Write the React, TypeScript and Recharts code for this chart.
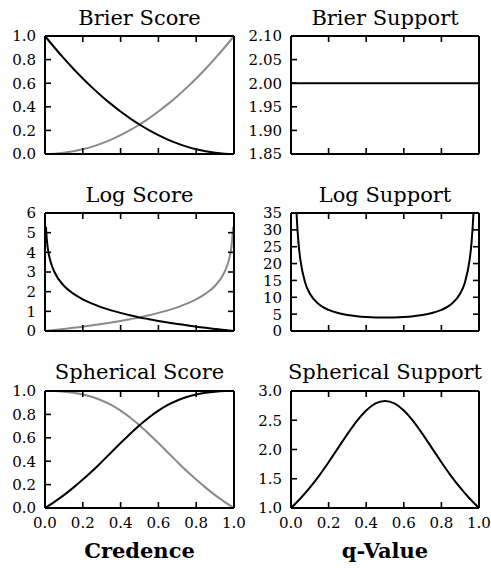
import React from 'react';
import { LineChart, Line, XAxis, YAxis } from 'recharts';

// ---------- data ----------
const xGrid = [0, 0.05, 0.1, 0.15, 0.2, 0.25, 0.3, 0.35, 0.4, 0.45, 0.5, 0.55, 0.6, 0.65, 0.7, 0.75, 0.8, 0.85, 0.9, 0.95, 1];
const brierBlack = [1, 0.9025, 0.81, 0.7225, 0.64, 0.5625, 0.49, 0.4225, 0.36, 0.3025, 0.25, 0.2025, 0.16, 0.1225, 0.09, 0.0625, 0.04, 0.0225, 0.01, 0.0025, 0];
const brierGray = [0, 0.0025, 0.01, 0.0225, 0.04, 0.0625, 0.09, 0.1225, 0.16, 0.2025, 0.25, 0.3025, 0.36, 0.4225, 0.49, 0.5625, 0.64, 0.7225, 0.81, 0.9025, 1];

const brierSupX = [0, 1];
const brierSupport = [2, 2];

const logX = [0.005, 0.01, 0.02, 0.03, 0.05, 0.1, 0.15, 0.2, 0.25, 0.3, 0.35, 0.4, 0.45, 0.5, 0.55, 0.6, 0.65, 0.7, 0.75, 0.8, 0.85, 0.9, 0.95, 0.97, 0.98, 0.99, 0.995];
const logBlack = [5.3, 4.61, 3.91, 3.51, 3.0, 2.3, 1.9, 1.61, 1.39, 1.2, 1.05, 0.92, 0.8, 0.69, 0.6, 0.51, 0.43, 0.36, 0.29, 0.22, 0.16, 0.105, 0.051, 0.03, 0.02, 0.01, 0.005];
const logGray = [0.005, 0.01, 0.02, 0.03, 0.051, 0.105, 0.16, 0.22, 0.29, 0.36, 0.43, 0.51, 0.6, 0.69, 0.8, 0.92, 1.05, 1.2, 1.39, 1.61, 1.9, 2.3, 3.0, 3.51, 3.91, 4.61, 5.3];

const logSupX = [0.025, 0.03, 0.04, 0.05, 0.075, 0.1, 0.15, 0.2, 0.25, 0.3, 0.35, 0.4, 0.45, 0.5, 0.55, 0.6, 0.65, 0.7, 0.75, 0.8, 0.85, 0.9, 0.925, 0.95, 0.96, 0.97, 0.975];
const logSupport = [41.0, 34.4, 26.0, 21.1, 14.4, 11.1, 7.84, 6.25, 5.33, 4.76, 4.4, 4.17, 4.04, 4.0, 4.04, 4.17, 4.4, 4.76, 5.33, 6.25, 7.84, 11.1, 14.4, 21.1, 26.0, 34.4, 41.0];

const sphBlack = [0, 0.053, 0.11, 0.174, 0.243, 0.316, 0.394, 0.474, 0.555, 0.633, 0.707, 0.774, 0.832, 0.881, 0.919, 0.949, 0.97, 0.985, 0.994, 0.999, 1];
const sphGray = [1, 0.999, 0.994, 0.985, 0.97, 0.949, 0.919, 0.881, 0.832, 0.774, 0.707, 0.633, 0.555, 0.474, 0.394, 0.316, 0.243, 0.174, 0.11, 0.053, 0];
const sphSupport = [1.0, 1.162, 1.347, 1.555, 1.783, 2.024, 2.264, 2.486, 2.667, 2.787, 2.828, 2.787, 2.667, 2.486, 2.264, 2.024, 1.783, 1.555, 1.347, 1.162, 1.0];

const xTicks = [0, 0.2, 0.4, 0.6, 0.8, 1.0];
const unitTicks = [0, 0.2, 0.4, 0.6, 0.8, 1.0];
const brierSupTicks = [1.85, 1.9, 1.95, 2.0, 2.05, 2.1];
const logScoreTicks = [0, 1, 2, 3, 4, 5, 6];
const logSupTicks = [0, 5, 10, 15, 20, 25, 30, 35];
const sphSupTicks = [1.0, 1.5, 2.0, 2.5, 3.0];

const titles = ['Brier Score', 'Brier Support', 'Log Score', 'Log Support', 'Spherical Score', 'Spherical Support'];
const xLabels = ['Credence', 'q-Value'];

// ---------- styling / layout ----------
const FONT = '"DejaVu Serif"';
const BLACK = '#000000';
const GRAY = '#8a8a8a';
const TICK_LEN = 6;
const TICK_FS = 15;
const YW = 40;

const TL = { stroke: '#000000', strokeWidth: 1.6 };

const leftTick = (digits: number) => (props: any) => {
  const x = Number(props.x);
  const y = Number(props.y);
  return (
    <g>
      <path d={`M${x + 9},${y}h${TICK_LEN}`} stroke={TL.stroke} strokeWidth={TL.strokeWidth} fill="none" />
      <text x={x} y={y} dy="0.36em" textAnchor="end" fontFamily={FONT} fontSize={TICK_FS} fill="#000">
        {Number(props.payload.value).toFixed(digits)}
      </text>
    </g>
  );
};
const rightTick = (props: any) => {
  const x = Number(props.x);
  const y = Number(props.y);
  return <path d={`M${x},${y}h${-TICK_LEN}`} stroke={TL.stroke} strokeWidth={TL.strokeWidth} fill="none" />;
};
const topTick = (props: any) => {
  const x = Number(props.x);
  const y = Number(props.y);
  return <path d={`M${x},${y}v${TICK_LEN}`} stroke={TL.stroke} strokeWidth={TL.strokeWidth} fill="none" />;
};
const bottomTick = (showLabel: boolean) => (props: any) => {
  const x = Number(props.x);
  const y = Number(props.y);
  return (
    <g>
      <path d={`M${x},${y}v${-TICK_LEN}`} stroke={TL.stroke} strokeWidth={TL.strokeWidth} fill="none" />
      {showLabel && (
        <text x={x} y={y + 15} dy="0.36em" textAnchor="middle" fontFamily={FONT} fontSize={TICK_FS} fill="#000">
          {Number(props.payload.value).toFixed(1)}
        </text>
      )}
    </g>
  );
};

type S = { values: number[]; color: string };
type PanelProps = {
  left: number; top: number; width: number; height: number;
  plotLeft: number; plotRight: number; plotTop: number; plotBottom: number;
  xs: number[]; series: S[];
  yDomain: [number, number]; yTicks: number[]; yDigits: number;
  showX: boolean; overflow?: boolean;
};

function Panel(p: PanelProps) {
  const data = p.xs.map((x, i) => {
    const row: Record<string, number> = { x };
    p.series.forEach((s, k) => { row['s' + k] = s.values[i]; });
    return row;
  });
  const xh = p.showX ? 30 : 1;
  const margin = {
    left: p.plotLeft - p.left - YW,
    right: p.left + p.width - p.plotRight - 1,
    top: p.plotTop - p.top - 1,
    bottom: p.top + p.height - p.plotBottom - xh,
  };
  const axisLine = { stroke: '#000', strokeWidth: 2 };
  return (
    <div style={{ position: 'absolute', left: p.left, top: p.top }}>
      <LineChart width={p.width} height={p.height} data={data} margin={margin}>
        <XAxis xAxisId="b" dataKey="x" type="number" domain={[0, 1]} ticks={xTicks} interval={0}
          height={xh} tickSize={0} tickMargin={0} axisLine={axisLine} tickLine={false}
          tick={bottomTick(p.showX)} />
        <XAxis xAxisId="t" orientation="top" dataKey="x" type="number" domain={[0, 1]} ticks={xTicks} interval={0}
          height={1} tickSize={0} tickMargin={0} axisLine={axisLine} tickLine={false} tick={topTick} />
        <YAxis yAxisId="l" type="number" domain={p.yDomain} ticks={p.yTicks} interval={0}
          width={YW} tickSize={0} tickMargin={9} axisLine={axisLine} tickLine={false}
          allowDataOverflow={!!p.overflow} tick={leftTick(p.yDigits)} />
        <YAxis yAxisId="r" orientation="right" type="number" domain={p.yDomain} ticks={p.yTicks} interval={0}
          width={1} tickSize={0} tickMargin={0} axisLine={axisLine} tickLine={false} tick={rightTick}
          allowDataOverflow={!!p.overflow} />
        {p.series.map((s, k) => (
          <Line key={k} xAxisId="b" yAxisId="l" dataKey={'s' + k} type="monotone" stroke={s.color}
            strokeWidth={2} dot={false} activeDot={false} isAnimationActive={false} />
        ))}
      </LineChart>
    </div>
  );
}

const colL = { left: 0, width: 252, plotLeft: 45, plotRight: 234 };
const colR = { left: 240, width: 251, plotLeft: 291, plotRight: 479 };
const row1 = { top: 0, height: 170, plotTop: 36, plotBottom: 154 };
const row2 = { top: 170, height: 175, plotTop: 213, plotBottom: 331 };
const row3 = { top: 350, height: 218, plotTop: 391, plotBottom: 508 };

function Title({ text, cx, top, bold, size }: { text: string; cx: number; top: number; bold?: boolean; size: number }) {
  return (
    <div style={{
      position: 'absolute', left: cx - 150, width: 300, top, textAlign: 'center',
      fontFamily: FONT, fontSize: size, lineHeight: size + 'px', fontWeight: bold ? 'bold' : 'normal', color: '#000',
      whiteSpace: 'nowrap',
    }}>{text}</div>
  );
}

export default function App() {
  const cL = (45 + 234) / 2;
  const cR = (291 + 479) / 2;
  const TS = 21;
  return (
    <div style={{ position: 'absolute', left: 0, top: 0, width: 491, height: 568, background: '#fff', overflow: 'hidden' }}>
      <Panel {...colL} {...row1} xs={xGrid} series={[{ values: brierGray, color: GRAY }, { values: brierBlack, color: BLACK }]}
        yDomain={[0, 1]} yTicks={unitTicks} yDigits={1} showX={false} />
      <Panel {...colR} {...row1} xs={brierSupX} series={[{ values: brierSupport, color: BLACK }]}
        yDomain={[1.85, 2.1]} yTicks={brierSupTicks} yDigits={2} showX={false} />
      <Panel {...colL} {...row2} xs={logX} series={[{ values: logGray, color: GRAY }, { values: logBlack, color: BLACK }]}
        yDomain={[0, 6]} yTicks={logScoreTicks} yDigits={0} showX={false} overflow />
      <Panel {...colR} {...row2} xs={logSupX} series={[{ values: logSupport, color: BLACK }]}
        yDomain={[0, 35]} yTicks={logSupTicks} yDigits={0} showX={false} overflow />
      <Panel {...colL} {...row3} xs={xGrid} series={[{ values: sphGray, color: GRAY }, { values: sphBlack, color: BLACK }]}
        yDomain={[0, 1]} yTicks={unitTicks} yDigits={1} showX />
      <Panel {...colR} {...row3} xs={xGrid} series={[{ values: sphSupport, color: BLACK }]}
        yDomain={[1, 3]} yTicks={sphSupTicks} yDigits={1} showX />

      <Title text={titles[0]} cx={cL} top={8} size={TS} />
      <Title text={titles[1]} cx={cR} top={8} size={TS} />
      <Title text={titles[2]} cx={cL} top={185} size={TS} />
      <Title text={titles[3]} cx={cR} top={185} size={TS} />
      <Title text={titles[4]} cx={cL} top={362} size={TS} />
      <Title text={titles[5]} cx={cR} top={362} size={TS} />
      <Title text={xLabels[0]} cx={cL} top={540} size={TS} bold />
      <Title text={xLabels[1]} cx={cR} top={540} size={TS} bold />
    </div>
  );
}
